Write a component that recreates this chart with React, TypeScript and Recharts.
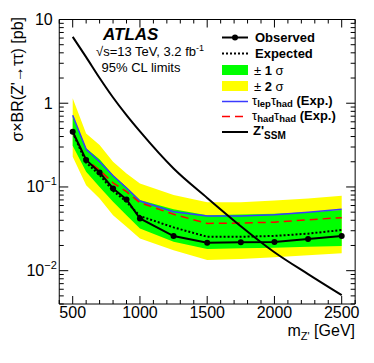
import React from 'react';
import { ComposedChart, Area, Line, XAxis, YAxis } from 'recharts';

// ---- data ----
const masses = [500, 600, 700, 800, 900, 1000, 1250, 1500, 1750, 2000, 2250, 2500];
const observed = [0.457, 0.21, 0.149, 0.096, 0.071, 0.042, 0.0259, 0.0215, 0.0219, 0.022, 0.0239, 0.0259];
const expected = [0.45, 0.195, 0.139, 0.09, 0.0665, 0.0449, 0.0329, 0.0254, 0.0254, 0.026, 0.0277, 0.0306];
const sigma1Low = [0.31, 0.152, 0.1, 0.0665, 0.046, 0.032, 0.0221, 0.0181, 0.0185, 0.0188, 0.0193, 0.0197];
const sigma1High = [0.7, 0.29, 0.214, 0.139, 0.1, 0.0697, 0.054, 0.046, 0.047, 0.048, 0.05, 0.053];
const sigma2Low = [0.23, 0.105, 0.073, 0.046, 0.0334, 0.0243, 0.0176, 0.0134, 0.0138, 0.0145, 0.0153, 0.0161];
const sigma2High = [1.15, 0.436, 0.316, 0.2, 0.145, 0.11, 0.08, 0.0655, 0.0655, 0.069, 0.073, 0.0785];
const lepHadExp = [0.72, 0.281, 0.2, 0.136, 0.097, 0.068, 0.0506, 0.0449, 0.045, 0.0466, 0.05, 0.0543];
const hadHadExp = [0.457, 0.213, 0.159, 0.112, 0.0877, 0.0649, 0.0471, 0.0367, 0.037, 0.038, 0.0405, 0.043];

const ssmMasses = [500, 600, 700, 800, 900, 1000, 1250, 1500, 1750, 2000, 2250, 2500];
const ssmXsec = [6.2, 3.55, 2.0, 1.17, 0.72, 0.46, 0.166, 0.074, 0.034, 0.0166, 0.0091, 0.0051];

const xDomain = [400, 2600];
const yDomain = [0.004, 10];
const xTicks = [400, 500, 600, 700, 800, 900, 1000, 1100, 1200, 1300, 1400, 1500, 1600, 1700, 1800, 1900, 2000, 2100, 2200, 2300, 2400, 2500, 2600];
const yTicks = [
  0.004, 0.005, 0.006, 0.007, 0.008, 0.009,
  0.01, 0.02, 0.03, 0.04, 0.05, 0.06, 0.07, 0.08, 0.09,
  0.1, 0.2, 0.3, 0.4, 0.5, 0.6, 0.7, 0.8, 0.9,
  1, 2, 3, 4, 5, 6, 7, 8, 9, 10,
];

const limitData = masses.map((m, i) => ({
  m,
  obs: observed[i],
  exp: expected[i],
  s1: [sigma1Low[i], sigma1High[i]],
  s2: [sigma2Low[i], sigma2High[i]],
  lep: lepHadExp[i],
  had: hadHadExp[i],
}));
const ssmData = ssmMasses.map((m, i) => ({ m, ssm: ssmXsec[i] }));

const FONT = '"Liberation Sans", Arial, Helvetica, sans-serif';

const isMajorY = (v: number) => Math.abs(Math.log10(v) - Math.round(Math.log10(v))) < 1e-9;

const BottomTick = (props: any) => {
  const { x, y, payload } = props;
  const v = payload.value;
  const major = v % 500 === 0;
  return (
    <g>
      <line x1={x} x2={x} y1={y} y2={y - (major ? 8 : 4)} stroke="#000" strokeWidth={1} />
      {major && v >= 500 && v <= 2500 && (
        <text x={x} y={y + 14} textAnchor="middle" fontFamily={FONT} fontSize={16} fill="#000">
          {v}
        </text>
      )}
    </g>
  );
};

const TopTick = (props: any) => {
  const { x, y, payload } = props;
  const major = payload.value % 500 === 0;
  return <line x1={x} x2={x} y1={y} y2={y + (major ? 8 : 4)} stroke="#000" strokeWidth={1} />;
};

const LeftTick = (props: any) => {
  const { x, y, payload } = props;
  const v = payload.value;
  const major = isMajorY(v);
  const e = Math.round(Math.log10(v));
  let label: React.ReactNode = null;
  if (major) {
    if (e === 1 || e === 0) {
      label = (
        <text x={x - 6.5} y={y + 5.5} textAnchor="end" fontFamily={FONT} fontSize={16} fill="#000">
          {e === 1 ? '10' : '1'}
        </text>
      );
    } else {
      label = (
        <text x={x - 2.5} y={y + 5.5} textAnchor="end" fontFamily={FONT} fontSize={16} fill="#000">
          10<tspan dy={-7} fontSize={11}>{'\u2212' + Math.abs(e)}</tspan>
        </text>
      );
    }
  }
  return (
    <g>
      <line x1={x} x2={x + (major ? 9 : 4.5)} y1={y} y2={y} stroke="#000" strokeWidth={1} />
      {label}
    </g>
  );
};

const RightTick = (props: any) => {
  const { x, y, payload } = props;
  const major = isMajorY(payload.value);
  return <line x1={x} x2={x - (major ? 9 : 4.5)} y1={y} y2={y} stroke="#000" strokeWidth={1} />;
};

const Overlay = () => (
  <svg
    width={374}
    height={363}
    style={{ position: 'absolute', left: 0, top: 0, pointerEvents: 'none' }}
    fontFamily={FONT}
  >
    {/* Y axis title */}
    <text x={22.5} y={17} textAnchor="end" fontSize={16} transform="rotate(-90 22.5 17)" fill="#000">
      {"σ×BR(Z'→ττ) [pb]"}
    </text>
    {/* X axis title */}
    <text x={355} y={336} textAnchor="end" fontSize={16} fill="#000">
      m<tspan dy={4} fontSize={11}>{"Z'"}</tspan>
      <tspan dy={-4}> [GeV]</tspan>
    </text>
    {/* ATLAS label */}
    <text x={103} y={39.5} fontSize={17} fontWeight="bold" fontStyle="italic" fill="#000">ATLAS</text>
    <text x={96} y={55.5} fontSize={13} fill="#000">
      √s=13 TeV, 3.2 fb<tspan dy={-5} fontSize={9}>-1</tspan>
    </text>
    <text x={101.5} y={72} fontSize={13} fill="#000">95% CL limits</text>

    {/* Legend */}
    <line x1={222} x2={248} y1={37.5} y2={37.5} stroke="#000" strokeWidth={2} />
    <circle cx={235} cy={37.5} r={3} fill="#000" />
    <text x={255} y={42} fontSize={13} fontWeight="bold" fill="#000">Observed</text>

    <line x1={222} x2={248} y1={53.5} y2={53.5} stroke="#000" strokeWidth={2} strokeDasharray="2 2" />
    <text x={255} y={58} fontSize={13} fontWeight="bold" fill="#000">Expected</text>

    <rect x={222} y={65} width={26} height={10} fill="#00ff00" />
    <text x={254} y={74.5} fontSize={13} fill="#000">
      ± <tspan fontWeight="bold">1</tspan> σ
    </text>

    <rect x={222} y={81} width={26} height={10} fill="#ffff00" />
    <text x={254} y={90.5} fontSize={13} fill="#000">
      ± <tspan fontWeight="bold">2</tspan> σ
    </text>

    <line x1={222} x2={248} y1={101.5} y2={101.5} stroke="#3a3aff" strokeWidth={1.5} />
    <text x={252} y={104.5} fontSize={13} fill="#000">
      τ<tspan dy={2.5} fontSize={9.5} fontWeight="bold">lep</tspan>
      <tspan dy={-2.5}>τ</tspan>
      <tspan dy={2.5} fontSize={9.5} fontWeight="bold">had</tspan>
      <tspan dy={-2.5} fontWeight="bold"> (Exp.)</tspan>
    </text>

    <line x1={222} x2={248} y1={116.5} y2={116.5} stroke="#ff0000" strokeWidth={1.5} strokeDasharray="8 5" />
    <text x={252} y={119.5} fontSize={13} fill="#000">
      τ<tspan dy={2.5} fontSize={9.5} fontWeight="bold">had</tspan>
      <tspan dy={-2.5}>τ</tspan>
      <tspan dy={2.5} fontSize={9.5} fontWeight="bold">had</tspan>
      <tspan dy={-2.5} fontWeight="bold"> (Exp.)</tspan>
    </text>

    <line x1={222} x2={248} y1={132} y2={132} stroke="#000" strokeWidth={2} />
    <text x={253} y={134.5} fontSize={13} fontWeight="bold" fill="#000">
      {"Z'"}<tspan dy={4.5} fontSize={10}>SSM</tspan>
    </text>
  </svg>
);

export default function App() {
  return (
    <div style={{ position: 'absolute', left: 0, top: 0, width: 374, height: 363, background: '#fff' }}>
      <ComposedChart
        width={374}
        height={363}
        data={limitData}
        margin={{ top: 0, right: 0, bottom: 0, left: 0 }}
      >
        <XAxis
          xAxisId="b"
          dataKey="m"
          type="number"
          domain={xDomain}
          ticks={xTicks}
          interval={0}
          allowDataOverflow
          orientation="bottom"
          height={59}
          tickSize={0}
          tickMargin={0}
          tickLine={false}
          axisLine={{ stroke: '#000', strokeWidth: 1 }}
          tick={<BottomTick />}
        />
        <XAxis
          xAxisId="t"
          dataKey="m"
          type="number"
          domain={xDomain}
          ticks={xTicks}
          interval={0}
          allowDataOverflow
          orientation="top"
          height={19.5}
          tickSize={0}
          tickMargin={0}
          tickLine={false}
          axisLine={{ stroke: '#000', strokeWidth: 1 }}
          tick={<TopTick />}
        />
        <YAxis
          yAxisId="l"
          type="number"
          scale="log"
          domain={yDomain}
          ticks={yTicks}
          interval={0}
          allowDataOverflow
          orientation="left"
          width={59.25}
          tickSize={0}
          tickMargin={0}
          tickLine={false}
          axisLine={{ stroke: '#000', strokeWidth: 1 }}
          tick={<LeftTick />}
        />
        <YAxis
          yAxisId="r"
          type="number"
          scale="log"
          domain={yDomain}
          ticks={yTicks}
          interval={0}
          allowDataOverflow
          orientation="right"
          width={18.85}
          tickSize={0}
          tickMargin={0}
          tickLine={false}
          axisLine={{ stroke: '#000', strokeWidth: 1 }}
          tick={<RightTick />}
        />
        <Area
          xAxisId="b"
          yAxisId="l"
          type="linear"
          dataKey="s2"
          stroke="none"
          fill="#ffff00"
          fillOpacity={1}
          isAnimationActive={false}
        />
        <Area
          xAxisId="b"
          yAxisId="l"
          type="linear"
          dataKey="s1"
          stroke="none"
          fill="#00ff00"
          fillOpacity={1}
          isAnimationActive={false}
        />
        <Line
          xAxisId="b"
          yAxisId="l"
          type="linear"
          dataKey="lep"
          stroke="#3a3aff"
          strokeWidth={1.5}
          dot={false}
          isAnimationActive={false}
        />
        <Line
          xAxisId="b"
          yAxisId="l"
          type="linear"
          dataKey="had"
          stroke="#ff0000"
          strokeWidth={1.5}
          strokeDasharray="8 5"
          dot={false}
          isAnimationActive={false}
        />
        <Line
          xAxisId="b"
          yAxisId="l"
          type="linear"
          dataKey="exp"
          stroke="#000"
          strokeWidth={2}
          strokeDasharray="2 2"
          dot={false}
          isAnimationActive={false}
        />
        <Line
          xAxisId="b"
          yAxisId="l"
          type="linear"
          dataKey="obs"
          stroke="#000"
          strokeWidth={2}
          dot={{ r: 3, fill: '#000', stroke: '#000', strokeWidth: 0 }}
          isAnimationActive={false}
        />
        <Line
          xAxisId="b"
          yAxisId="l"
          type="monotone"
          data={ssmData}
          dataKey="ssm"
          stroke="#000"
          strokeWidth={2}
          dot={false}
          isAnimationActive={false}
        />
      </ComposedChart>
      <Overlay />
    </div>
  );
}
